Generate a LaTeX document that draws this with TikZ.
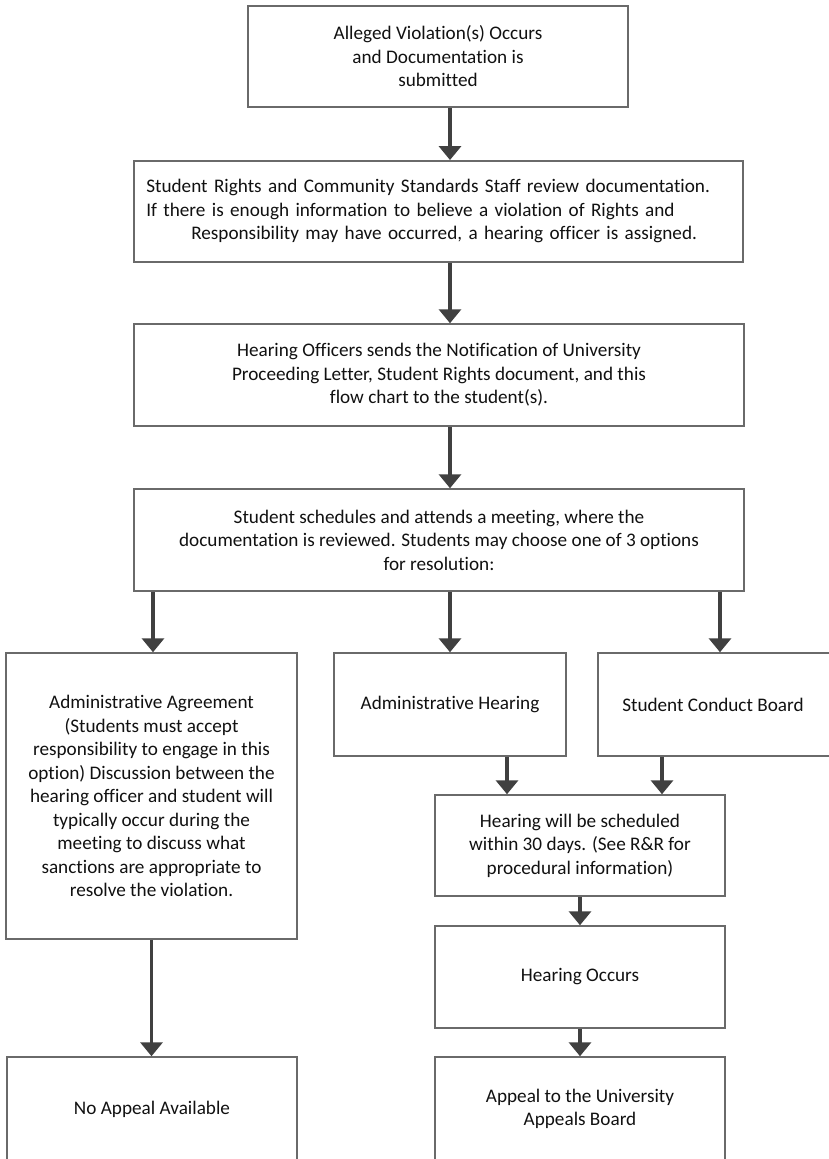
\documentclass[tikz,border=0pt]{standalone}
\usepackage{fontspec}
\setmainfont[Ligatures=NoCommon]{Carlito}
\usetikzlibrary{arrows.meta}
\definecolor{boxline}{HTML}{6A6A6A}
\definecolor{arrline}{HTML}{404040}
\definecolor{txt}{HTML}{111111}
\begin{document}
\begin{tikzpicture}[x=1pt,y=1pt,
  box/.style={draw=boxline, line width=1.5pt, fill=white, inner sep=0pt,
    text=txt, align=center, font=\fontsize{19.2}{23.5}\selectfont},
  arr/.style={draw=arrline, line width=3.5pt,
    -{Triangle[width=22pt,length=14pt]}}]
\useasboundingbox[fill=white] (0,0) rectangle (828,-1159);
\node[box, minimum width=380pt, minimum height=101pt] (b1) at (438,-56.5)
  {Alleged Violation(s) Occurs\\and Documentation is\\submitted};
\node[box, minimum width=609pt, minimum height=101pt, text width=584pt, align=left, inner xsep=12.5pt] (b2) at (438.3,-211.3)
  {Student Rights and Community Standards Staff review documentation.\\
   If there is enough information to believe a violation of Rights and\\
   \hspace*{45pt}Responsibility may have occurred, a hearing officer is assigned.};
\node[box, minimum width=610pt, minimum height=102pt] (b3) at (439,-375)
  {Hearing Officers sends the Notification of University\\Proceeding Letter, Student Rights document, and this\\flow chart to the student(s).};
\node[box, minimum width=610pt, minimum height=102pt] (b4) at (439,-540)
  {Student schedules and attends a meeting, where the\\documentation is reviewed. Students may choose one of 3 options\\for resolution:};
\node[box, minimum width=291pt, minimum height=286pt] (aa) at (151.5,-796)
  {Administrative Agreement\\(Students must accept\\responsibility to engage in this\\option) Discussion between the\\hearing officer and student will\\typically occur during the\\meeting to discuss what\\sanctions are appropriate to\\resolve the violation.};
\node[box, minimum width=232pt, minimum height=103pt] (ah) at (450,-704.5)
  {Administrative Hearing};
\node[box, minimum width=244pt, minimum height=103pt] (scb) at (720,-704.5)
  {\hspace*{-14pt}Student Conduct Board};
\node[box, minimum width=290pt, minimum height=101pt] (hs) at (580,-845.5)
  {Hearing will be scheduled\\within 30 days. (See R\&R for\\procedural information)};
\node[box, minimum width=290pt, minimum height=102pt] (ho) at (580,-977)
  {Hearing Occurs};
\node[box, minimum width=290pt, minimum height=104pt] (ap) at (580,-1109)
  {Appeal to the University\\Appeals Board};
\node[box, minimum width=290pt, minimum height=104pt] (na) at (152,-1109)
  {No Appeal Available};
\draw[arr] ([xshift=12pt]b1.south) -- ([xshift=12pt]b1.south |- b2.north);
\draw[arr] ([xshift=11.7pt]b2.south) -- ([xshift=11.7pt]b2.south |- b3.north);
\draw[arr] ([xshift=11pt]b3.south) -- ([xshift=11pt]b3.south |- b4.north);
\draw[arr] ([xshift=1.5pt]b4.south -| aa.north) -- ([xshift=1.5pt]aa.north);
\draw[arr] (b4.south -| ah.north) -- (ah.north);
\draw[arr] (b4.south -| scb.north) -- (scb.north);
\draw[arr] ([xshift=57pt]ah.south) -- ([xshift=57pt]ah.south |- hs.north);
\draw[arr] ([xshift=-58pt]scb.south) -- ([xshift=-58pt]scb.south |- hs.north);
\draw[arr] (hs.south) -- (ho.north);
\draw[arr] (ho.south) -- (ap.north);
\draw[arr] (aa.south) -- (aa.south |- na.north);
\end{tikzpicture}
\end{document}
